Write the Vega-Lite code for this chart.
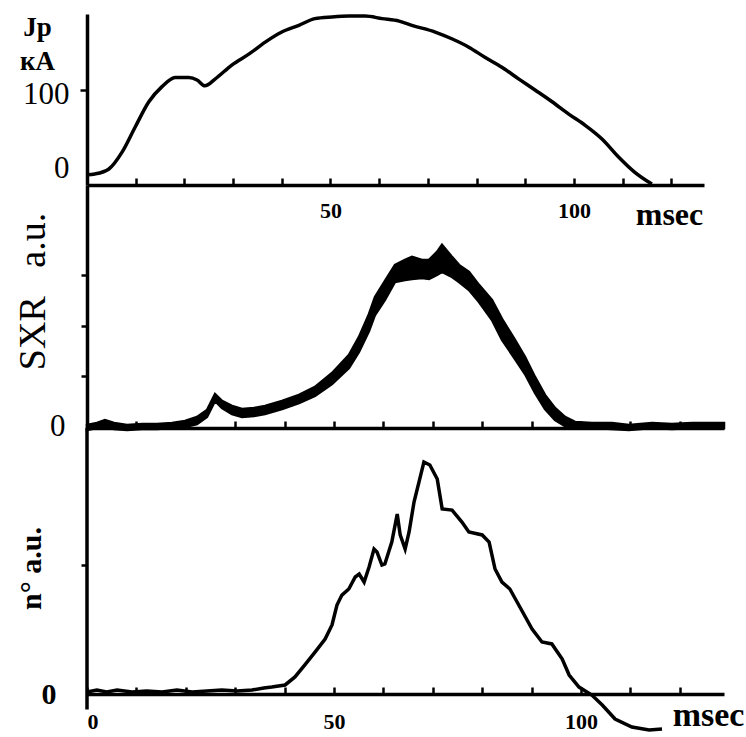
{
  "$schema": "https://vega.github.io/schema/vega-lite/v6.json",
  "padding": {"left": 13, "top": 9, "right": 0, "bottom": 0},
  "background": "white",
  "spacing": 0,
  "bounds": "flush",
  "resolve": {"scale": {"x": "independent", "y": "independent"}},
  "config": {
    "font": "Liberation Serif",
    "view": {"stroke": null},
    "axis": {
      "domainColor": "black", "domainWidth": 3.5, "tickColor": "black", "tickWidth": 2.5,
      "labelColor": "black", "titleColor": "black", "grid": false,
      "labelFont": "Liberation Serif", "titleFont": "Liberation Serif"
    }
  },
  "vconcat": [
    {
      "width": 617, "height": 171,
      "data": {"values": [
        {"t":0,"jp":-1},{"t":1.6,"jp":0},{"t":4.5,"jp":6},{"t":7.2,"jp":26},{"t":9.9,"jp":56},{"t":12.7,"jp":86},
        {"t":15.4,"jp":104},{"t":18.1,"jp":115},{"t":20.9,"jp":115},{"t":22.6,"jp":112},{"t":24.2,"jp":105},
        {"t":26.3,"jp":113},{"t":29.8,"jp":130},{"t":33.3,"jp":143},{"t":36.6,"jp":157},{"t":40.0,"jp":169},
        {"t":43.5,"jp":177},{"t":46.8,"jp":185},{"t":50.3,"jp":187},{"t":53.8,"jp":188},{"t":57.1,"jp":188},
        {"t":60.6,"jp":185},{"t":64.1,"jp":182},{"t":66.7,"jp":177},{"t":71.5,"jp":169},{"t":74.9,"jp":161},
        {"t":78.4,"jp":151},{"t":81.7,"jp":139},{"t":85.2,"jp":127},{"t":88.7,"jp":113},{"t":92.0,"jp":100},
        {"t":95.5,"jp":86},{"t":99.0,"jp":71},{"t":102.3,"jp":58},{"t":105.7,"jp":42},{"t":109.2,"jp":20},
        {"t":112.5,"jp":2},{"t":116.0,"jp":-12}
      ]},
      "mark": {"type": "line", "color": "black", "strokeWidth": 3.5, "interpolate": "monotone"},
      "encoding": {
        "x": {"field": "t", "type": "quantitative",
          "scale": {"domain": [0, 126.7], "nice": false, "zero": false},
          "axis": {"values": [10,20,30,40,50,60,70,80,90,100,110,120], "tickSize": -7,
            "labelExpr": "datum.value === 50 || datum.value === 100 ? datum.label : ''",
            "labelFontSize": 22, "labelFontWeight": "bold", "labelPadding": 22,
            "title": "msec", "titleFontSize": 32, "titleFontWeight": "bold",
            "titleX": 582, "titleY": 39, "titleAlign": "center", "titleBaseline": "alphabetic"}},
        "y": {"field": "jp", "type": "quantitative",
          "scale": {"domain": [-13.1, 190.5], "nice": false, "zero": false},
          "axis": {"values": [0, 100], "tickSize": 7,
            "tickOpacity": {"condition": {"test": "datum.value === 0", "value": 0}, "value": 1},
            "labelFontSize": 31, "labelPadding": 11,
            "labelOffset": {"condition": {"test": "datum.value === 0", "value": -5}, "value": 4},
            "title": ["Jp", "кА"], "titleAngle": 0, "titleAlign": "center", "titleBaseline": "alphabetic",
            "titleX": -50, "titleY": 21, "titleFontSize": 27, "titleFontWeight": "bold", "titleLineHeight": 34}}
      }
    },
    {
      "width": 637, "height": 243,
      "data": {"values": [
        {"t":0,"hi":0.040,"lo":-0.059},{"t":2.02,"hi":0.079,"lo":-0.020},{"t":3.64,"hi":0.139,"lo":0},
        {"t":5.47,"hi":0.079,"lo":-0.040},{"t":8.10,"hi":0.040,"lo":-0.059},{"t":11.13,"hi":0.059,"lo":-0.040},
        {"t":14.17,"hi":0.059,"lo":-0.040},{"t":17.21,"hi":0.079,"lo":-0.020},{"t":19.84,"hi":0.119,"lo":0},
        {"t":22.27,"hi":0.198,"lo":0.059},{"t":24.29,"hi":0.337,"lo":0.198},{"t":25.91,"hi":0.653,"lo":0.515},
        {"t":27.33,"hi":0.515,"lo":0.376},{"t":29.35,"hi":0.416,"lo":0.257},{"t":31.38,"hi":0.356,"lo":0.198},
        {"t":33.81,"hi":0.376,"lo":0.218},{"t":36.03,"hi":0.416,"lo":0.257},{"t":39.47,"hi":0.515,"lo":0.356},
        {"t":42.91,"hi":0.634,"lo":0.475},{"t":46.15,"hi":0.792,"lo":0.614},{"t":49.60,"hi":1.069,"lo":0.851},
        {"t":53.04,"hi":1.426,"lo":1.168},{"t":55.06,"hi":1.782,"lo":1.485},{"t":57.09,"hi":2.238,"lo":1.901},
        {"t":58.30,"hi":2.574,"lo":2.218},{"t":60.32,"hi":2.891,"lo":2.515},{"t":62.35,"hi":3.208,"lo":2.871},
        {"t":64.37,"hi":3.307,"lo":2.911},{"t":65.79,"hi":3.366,"lo":2.931},{"t":67.81,"hi":3.307,"lo":2.950},
        {"t":69.23,"hi":3.307,"lo":2.931},{"t":70.85,"hi":3.465,"lo":3.010},{"t":71.86,"hi":3.604,"lo":3.069},
        {"t":73.89,"hi":3.366,"lo":2.970},{"t":75.30,"hi":3.208,"lo":2.871},{"t":77.33,"hi":3.069,"lo":2.713},
        {"t":79.35,"hi":2.812,"lo":2.475},{"t":81.98,"hi":2.515,"lo":2.119},{"t":84.01,"hi":2.139,"lo":1.723},
        {"t":86.64,"hi":1.723,"lo":1.347},{"t":88.66,"hi":1.386,"lo":1.050},{"t":90.69,"hi":0.990,"lo":0.673},
        {"t":92.71,"hi":0.634,"lo":0.356},{"t":94.74,"hi":0.376,"lo":0.139},{"t":96.76,"hi":0.198,"lo":0.020},
        {"t":98.79,"hi":0.099,"lo":-0.020},{"t":102.23,"hi":0.079,"lo":-0.020},{"t":106.28,"hi":0.079,"lo":-0.040},
        {"t":109.72,"hi":0.040,"lo":-0.059},{"t":114.37,"hi":0.079,"lo":-0.020},{"t":118.42,"hi":0.059,"lo":-0.040},
        {"t":122.47,"hi":0.079,"lo":-0.020},{"t":126.52,"hi":0.079,"lo":-0.020},{"t":128.95,"hi":0.079,"lo":-0.020}
      ]},
      "mark": {"type": "area", "color": "black", "stroke": "black", "strokeWidth": 2.5},
      "encoding": {
        "x": {"field": "t", "type": "quantitative",
          "scale": {"domain": [0, 128.95], "nice": false, "zero": false},
          "axis": {"values": [10,20,30,40,50,60,70,80,90,100,110,120], "tickSize": -7, "labels": false, "title": null}},
        "y": {"field": "hi", "type": "quantitative",
          "scale": {"domain": [-0.02, 4.79], "nice": false, "zero": false},
          "axis": {"values": [0, 1, 2, 3], "tickSize": 6,
            "tickOpacity": {"condition": {"test": "datum.value === 0", "value": 0}, "value": 1},
            "labelExpr": "datum.value === 0 ? '0' : ''",
            "labelFontSize": 31, "labelPadding": 16,
            "title": "SXR\u00a0\u00a0\u00a0a.u.", "titleAngle": -90, "titleAlign": "center", "titleBaseline": "alphabetic",
            "titleX": -43, "titleY": 106, "titleFontSize": 38, "titleFontWeight": "normal"}},
        "y2": {"field": "lo"}
      }
    },
    {
      "width": 637, "height": 306,
      "layer": [
        {
          "data": {"values": [
            {"t":0,"n":0.016},{"t":2.0,"n":0.031},{"t":4.0,"n":0.016},{"t":6.1,"n":0.031},{"t":9.1,"n":0.016},
            {"t":12.1,"n":0.023},{"t":15.2,"n":0.016},{"t":18.2,"n":0.031},{"t":21.3,"n":0.016},{"t":24.3,"n":0.023},
            {"t":27.3,"n":0.031},{"t":30.4,"n":0.023},{"t":33.4,"n":0.031},{"t":35.8,"n":0.047},{"t":37.4,"n":0.054},
            {"t":40.1,"n":0.070},{"t":42.1,"n":0.132},{"t":44.1,"n":0.225},{"t":46.2,"n":0.326},{"t":48.2,"n":0.426},
            {"t":49.6,"n":0.535},{"t":50.6,"n":0.690},{"t":51.6,"n":0.767},{"t":53.0,"n":0.814},{"t":54.3,"n":0.907},
            {"t":55.1,"n":0.930},{"t":56.1,"n":0.868},{"t":57.1,"n":0.984},{"t":58.1,"n":1.124},{"t":58.7,"n":1.101},
            {"t":59.7,"n":1.000},{"t":60.3,"n":1.008},{"t":61.7,"n":1.178},{"t":62.8,"n":1.395},{"t":63.4,"n":1.233},
            {"t":64.4,"n":1.124},{"t":65.2,"n":1.256},{"t":66.2,"n":1.488},{"t":67.2,"n":1.643},{"t":68.2,"n":1.798},
            {"t":69.4,"n":1.775},{"t":70.9,"n":1.667},{"t":71.9,"n":1.434},{"t":73.9,"n":1.426},{"t":75.9,"n":1.333},
            {"t":77.3,"n":1.256},{"t":80.0,"n":1.233},{"t":81.4,"n":1.178},{"t":82.6,"n":0.969},{"t":84.0,"n":0.868},
            {"t":85.6,"n":0.814},{"t":87.4,"n":0.690},{"t":90.1,"n":0.504},{"t":92.1,"n":0.403},{"t":94.1,"n":0.388},
            {"t":96.2,"n":0.271},{"t":97.6,"n":0.147},{"t":99.6,"n":0.054},{"t":102.2,"n":-0.008},{"t":104.3,"n":-0.085},
            {"t":106.9,"n":-0.194},{"t":110.3,"n":-0.256},{"t":113.8,"n":-0.279},{"t":116.4,"n":-0.271}
          ]},
          "mark": {"type": "line", "color": "black", "strokeWidth": 3.5},
          "encoding": {
            "x": {"field": "t", "type": "quantitative",
              "scale": {"domain": [0, 128.95], "nice": false, "zero": false},
              "axis": {"values": [0,10,20,30,40,50,60,70,80,90,100,110,120], "tickSize": -7, "offset": -40,
                "labelExpr": "datum.value % 50 === 0 ? datum.label : ''",
                "labelFontSize": 22, "labelFontWeight": "bold", "labelPadding": 24,
                "title": "msec", "titleFontSize": 34, "titleFontWeight": "bold",
                "titleX": 621, "titleY": 31, "titleAlign": "center", "titleBaseline": "alphabetic"}},
            "y": {"field": "n", "type": "quantitative",
              "scale": {"domain": [-0.31, 2.062], "nice": false, "zero": false},
              "axis": {"values": [0, 1], "tickSize": 6, "domain": false,
                "tickOpacity": {"condition": {"test": "datum.value === 0", "value": 0}, "value": 1},
                "labelExpr": "datum.value === 0 ? '0' : ''",
                "labelFontSize": 30, "labelFontWeight": "bold", "labelPadding": 25,
                "title": "n° a.u.", "titleAngle": -90, "titleAlign": "center", "titleBaseline": "alphabetic",
                "titleX": -47, "titleY": 140, "titleFontSize": 30, "titleFontWeight": "bold"}}
          }
        },
        {
          "data": {"values": [{"lo": -0.12, "hi": 2.062}]},
          "mark": {"type": "rule", "color": "black", "strokeWidth": 3.5},
          "encoding": {
            "x": {"datum": 0},
            "y": {"field": "lo", "type": "quantitative"},
            "y2": {"field": "hi"}
          }
        }
      ]
    }
  ]
}
